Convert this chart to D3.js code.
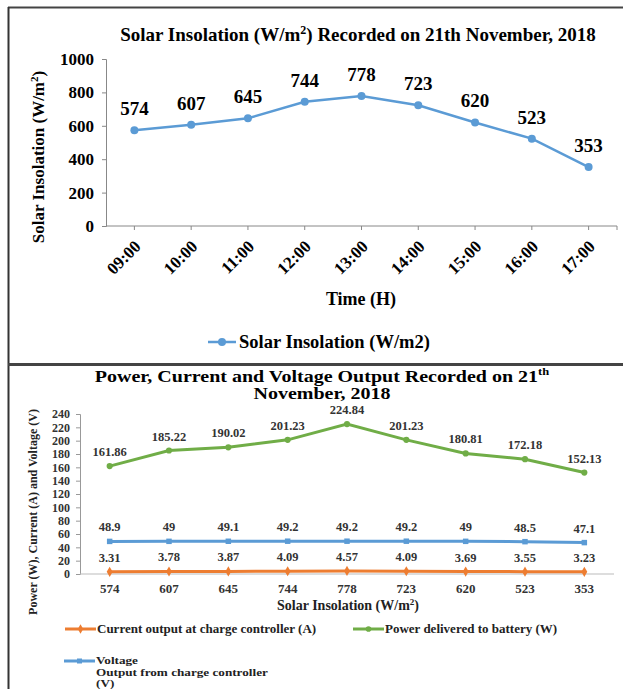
<!DOCTYPE html>
<html>
<head>
<meta charset="utf-8">
<script src="https://cdn.jsdelivr.net/npm/d3@7"></script>
<style>
  body { margin: 0; background: #fff; }
  text { font-family: "Liberation Serif", "Times New Roman", serif; font-weight: bold; }
</style>
</head>
<body>
<svg width="623" height="689"></svg>
<script>
// chart data
var hours = ["09:00", "10:00", "11:00", "12:00", "13:00", "14:00", "15:00", "16:00", "17:00"];
var insolation = [574, 607, 645, 744, 778, 723, 620, 523, 353];
var insolationTicks = [0, 200, 400, 600, 800, 1000];

var insolationCats = ["574", "607", "645", "744", "778", "723", "620", "523", "353"];
var currentA = [3.31, 3.78, 3.87, 4.09, 4.57, 4.09, 3.69, 3.55, 3.23];
var powerW = [161.86, 185.22, 190.02, 201.23, 224.84, 201.23, 180.81, 172.18, 152.13];
var voltageV = [48.9, 49, 49.1, 49.2, 49.2, 49.2, 49, 48.5, 47.1];
var outputTicks = d3.range(0, 241, 20);

var blue = "#5b9bd5", orange = "#ed7d31", green = "#70ad47";

var svg = d3.select("svg");

// frame lines
svg.append("line").attr("x1", 8).attr("x2", 623).attr("y1", 7.5).attr("y2", 7.5)
    .attr("stroke", "#444").attr("stroke-width", 2);
svg.append("line").attr("x1", 8.5).attr("x2", 8.5).attr("y1", 7).attr("y2", 689)
    .attr("stroke", "#333").attr("stroke-width", 2);
svg.append("line").attr("x1", 8).attr("x2", 623).attr("y1", 364.5).attr("y2", 364.5)
    .attr("stroke", "#444").attr("stroke-width", 3);

/* ---------- top chart: solar insolation ---------- */
var x1 = d3.scaleBand().domain(hours).range([106, 617]);
var y1 = d3.scaleLinear().domain([0, 1000]).range([226, 59]);
var cx1 = function(d, i) { return x1(hours[i]) + x1.bandwidth() / 2; };

var t1 = svg.append("text").attr("x", 358).attr("y", 41).attr("text-anchor", "middle")
    .style("font-size", "19px");
t1.append("tspan").text("Solar Insolation (W/m");
t1.append("tspan").attr("dy", -7).style("font-size", "12px").text("2");
t1.append("tspan").attr("dy", 7).text(") Recorded on 21th November, 2018");

var yAxis1 = svg.append("g").attr("transform", "translate(106,0)")
    .call(d3.axisLeft(y1).tickValues(insolationTicks).tickFormat(d3.format("d")).tickSize(4).tickPadding(8));
yAxis1.select(".domain").attr("stroke", "#888");
yAxis1.selectAll("line").attr("stroke", "#888");
yAxis1.selectAll("text").style("font-size", "17px").attr("fill", "#000");

var xAxis1 = svg.append("g").attr("transform", "translate(0,226)");
xAxis1.append("line").attr("x1", 106).attr("x2", 617).attr("stroke", "#888");
xAxis1.selectAll(".tk").data(hours.concat(["end"])).enter().append("line")
    .attr("x1", function(d) { return d === "end" ? 617 : x1(d) + x1.bandwidth() / 2; })
    .attr("x2", function(d) { return d === "end" ? 617 : x1(d) + x1.bandwidth() / 2; })
    .attr("y1", 0).attr("y2", 4).attr("stroke", "#888");
xAxis1.selectAll(".lab").data(hours).enter().append("text")
    .attr("transform", function(d) { return "translate(" + (x1(d) + x1.bandwidth() / 2 - 1) + ",13) rotate(-45)"; })
    .attr("text-anchor", "end").attr("dy", "0.7em")
    .style("font-size", "17px").text(function(d) { return d; });

svg.append("text").attr("x", 361).attr("y", 305).attr("text-anchor", "middle")
    .style("font-size", "18px").text("Time (H)");

var yl1 = svg.append("text").attr("transform", "translate(44,157) rotate(-90)")
    .attr("text-anchor", "middle").style("font-size", "17px");
yl1.append("tspan").text("Solar Insolation (W/m");
yl1.append("tspan").attr("dy", -6).style("font-size", "11px").text("2");
yl1.append("tspan").attr("dy", 6).text(")");

var line1 = d3.line().x(cx1).y(function(d) { return y1(d); });
svg.append("path").datum(insolation).attr("d", line1)
    .attr("fill", "none").attr("stroke", blue).attr("stroke-width", 2.5);
svg.selectAll(".pt1").data(insolation).enter().append("circle")
    .attr("cx", cx1).attr("cy", function(d) { return y1(d); }).attr("r", 4).attr("fill", blue);
svg.selectAll(".lb1").data(insolation).enter().append("text")
    .attr("x", cx1).attr("y", function(d) { return y1(d) - 15; })
    .attr("text-anchor", "middle").style("font-size", "19px").text(function(d) { return d; });

// legend
svg.append("line").attr("x1", 208).attr("x2", 236).attr("y1", 342).attr("y2", 342)
    .attr("stroke", blue).attr("stroke-width", 2.5);
svg.append("circle").attr("cx", 222).attr("cy", 342).attr("r", 4).attr("fill", blue);
svg.append("text").attr("x", 239).attr("y", 348).style("font-size", "18.5px").text("Solar Insolation (W/m2)");

/* ---------- bottom chart: power, current, voltage ---------- */
var x2 = d3.scaleBand().domain(insolationCats).range([80, 614]);
var y2 = d3.scaleLinear().domain([0, 240]).range([574, 414]);
var cx2 = function(d, i) { return x2(insolationCats[i]) + x2.bandwidth() / 2; };

// title is set a little wide, as in the original
var t2 = svg.append("text").attr("transform", "translate(322,382) scale(1.25,1)")
    .attr("text-anchor", "middle").style("font-size", "16px");
t2.append("tspan").text("Power, Current and Voltage Output Recorded on 21");
t2.append("tspan").attr("dy", -7).style("font-size", "10px").text("th");
svg.append("text").attr("transform", "translate(322,399) scale(1.25,1)")
    .attr("text-anchor", "middle").style("font-size", "16px").text("November, 2018");

var yAxis2 = svg.append("g").attr("transform", "translate(80,0)")
    .call(d3.axisLeft(y2).tickValues(outputTicks).tickSize(4).tickPadding(6));
yAxis2.select(".domain").attr("stroke", "#999");
yAxis2.selectAll("line").attr("stroke", "#999");
yAxis2.selectAll("text").style("font-size", "12px").attr("fill", "#333");

var xAxis2 = svg.append("g").attr("transform", "translate(0,574)");
xAxis2.append("line").attr("x1", 80).attr("x2", 614).attr("stroke", "#bbb");
xAxis2.selectAll(".lab").data(insolationCats).enter().append("text")
    .attr("x", function(d) { return x2(d) + x2.bandwidth() / 2; }).attr("y", 19)
    .attr("text-anchor", "middle").style("font-size", "13px").attr("fill", "#333")
    .text(function(d) { return d; });

var xt2 = svg.append("text").attr("x", 348).attr("y", 610).attr("text-anchor", "middle")
    .style("font-size", "14px").attr("fill", "#222");
xt2.append("tspan").text("Solar Insolation (W/m");
xt2.append("tspan").attr("dy", -5).style("font-size", "9px").text("2");
xt2.append("tspan").attr("dy", 5).text(")");

svg.append("text").attr("transform", "translate(37,512) rotate(-90)")
    .attr("text-anchor", "middle").style("font-size", "12px").attr("fill", "#222")
    .text("Power (W), Current  (A) and Voltage (V)");

var line2 = d3.line().x(cx2).y(function(d) { return y2(d); });
function series(values, color, marker) {
    svg.append("path").datum(values).attr("d", line2)
        .attr("fill", "none").attr("stroke", color).attr("stroke-width", 3);
    svg.append("g").selectAll("path").data(values).enter().append("path")
        .attr("transform", function(d, i) { return "translate(" + cx2(d, i) + "," + y2(d) + ")"; })
        .attr("d", d3.symbol().type(marker).size(30)).attr("fill", color);
    svg.append("g").selectAll("text").data(values).enter().append("text")
        .attr("x", cx2).attr("y", function(d) { return y2(d) - 10; })
        .attr("text-anchor", "middle").style("font-size", "12.5px").attr("fill", "#333")
        .text(function(d) { return d; });
}
series(powerW, green, d3.symbolCircle);
series(voltageV, blue, d3.symbolSquare);
series(currentA, orange, d3.symbolDiamond);

// legend
function legendItem(x, y, color, marker) {
    svg.append("line").attr("x1", x).attr("x2", x + 31).attr("y1", y).attr("y2", y)
        .attr("stroke", color).attr("stroke-width", 3);
    svg.append("path").attr("transform", "translate(" + (x + 15.5) + "," + y + ")")
        .attr("d", d3.symbol().type(marker).size(25)).attr("fill", color);
}
legendItem(65, 629, orange, d3.symbolDiamond);
svg.append("text").attr("x", 97).attr("y", 633).style("font-size", "13px").attr("fill", "#222")
    .text("Current output at charge controller (A)");
legendItem(353, 629, green, d3.symbolCircle);
svg.append("text").attr("x", 385).attr("y", 633).style("font-size", "13px").attr("fill", "#222")
    .text("Power delivered to battery (W)");
legendItem(64, 661, blue, d3.symbolSquare);
var vl = svg.append("text").attr("transform", "translate(96,664) scale(1.2,1)")
    .style("font-size", "11px").attr("fill", "#222");
vl.append("tspan").attr("x", 0).text("Voltage");
vl.append("tspan").attr("x", 0).attr("dy", 12).text("Output from charge controller");
vl.append("tspan").attr("x", 0).attr("dy", 11.5).text("(V)");
</script>
</body>
</html>
